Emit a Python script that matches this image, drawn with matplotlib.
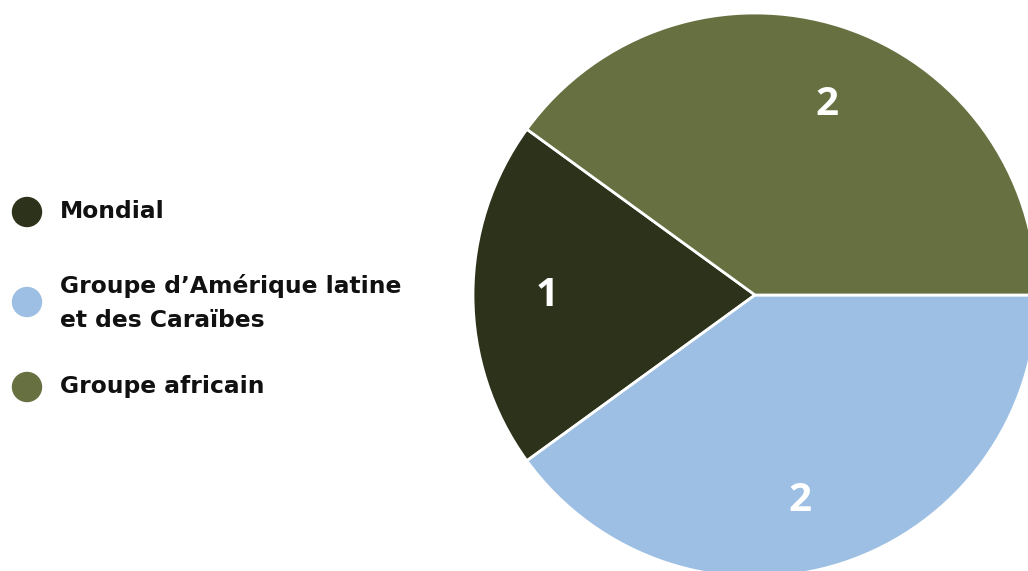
import matplotlib
matplotlib.use("Agg")
import matplotlib.pyplot as plt
from matplotlib.patches import Ellipse

categories = ["Mondial", "Groupe d’Amérique latine\net des Caraïbes", "Groupe africain"]
values = [1, 2, 2]
colors = ["#2d321b", "#9dbfe3", "#667040"]

W, H = 1028, 571
fig = plt.figure(figsize=(W / 100, H / 100), dpi=100)
fig.patch.set_facecolor("white")

LFONT = ["DejaVu Sans"]
NFONT = ["Open Sans", "DejaVu Sans"]

# Pie axes
cx, cy, r = 755, 295, 282
ax = fig.add_axes([(cx - r) / W, (H - cy - r) / H, 2 * r / W, 2 * r / H])
wedges, texts = ax.pie(values, colors=colors, startangle=144, counterclock=True,
                       labels=[str(v) for v in values], labeldistance=0.73,
                       wedgeprops=dict(edgecolor="white", linewidth=2),
                       textprops=dict(color="white", fontsize=29, fontweight="bold",
                                      family=NFONT, ha="center", va="center"))
# fine placement of value labels
label_pos = [(-0.738, 0.0), (0.160, -0.727), (0.255, 0.674)]
for t, p in zip(texts, label_pos):
    t.set_position(p)
ax.set_xlim(-1, 1)
ax.set_ylim(-1, 1)
ax.set_aspect("equal")
ax.axis("off")

# Legend
lax = fig.add_axes([0, 0, 1, 1])
lax.set_xlim(0, W)
lax.set_ylim(H, 0)
lax.axis("off")
ys = [212, 302, 387]
text_ys = [211, 303, 387]
for lab, col, y, ty in zip(categories, colors, ys, text_ys):
    lax.add_patch(Ellipse((27, y), 29, 29, color=col))
    lax.text(60, ty, lab, fontsize=16.8, fontweight="semibold", family=LFONT,
             va="center", ha="left", color="#111111", linespacing=1.62)

fig.savefig("out.png", dpi=100)
